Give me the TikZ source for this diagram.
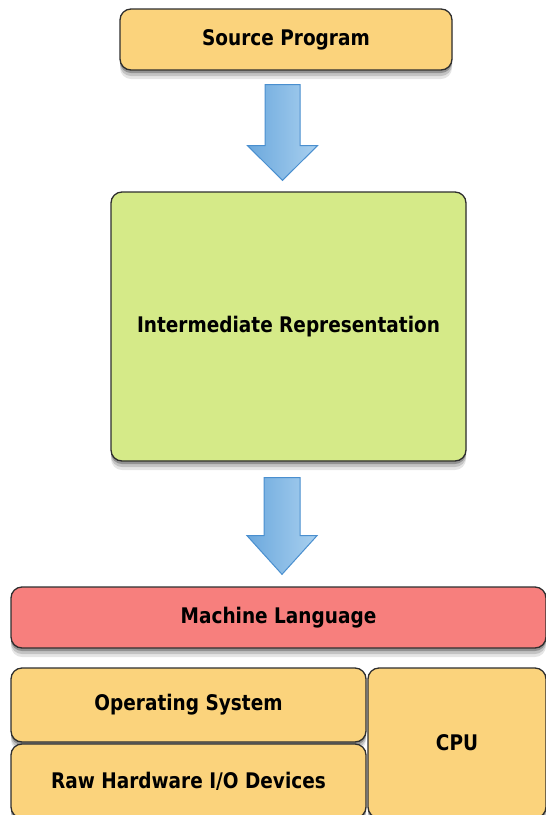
\documentclass[tikz,border=0pt]{standalone}
\usepackage{fontspec}
\setmainfont{DejaVu Sans}[FakeStretch=0.86]
\usetikzlibrary{shadows,calc}
\definecolor{boxorange}{HTML}{FBD37C}
\definecolor{boxgreen}{HTML}{D5EA88}
\definecolor{boxred}{HTML}{F77F7D}
\definecolor{boxline}{HTML}{2E2E2E}
\definecolor{arrowdark}{HTML}{6BA8DD}
\definecolor{arrowlight}{HTML}{A9D0EF}
\definecolor{arrowline}{HTML}{4A8FCF}
\begin{document}
\begin{tikzpicture}[x=1pt,y=-1pt,
  box/.style={draw=boxline, line width=1.3pt, rounded corners=11pt, inner sep=0pt,
    font=\fontsize{21.5}{24}\selectfont\bfseries,
    preaction={fill=black, opacity=0.10, transform canvas={yshift=-9pt}},
    preaction={fill=black, opacity=0.15, transform canvas={yshift=-6pt}},
    preaction={fill=black, opacity=0.25, transform canvas={yshift=-3pt}}},
  blockarrow/.style={draw=arrowline, line width=1pt, line join=miter, left color=arrowdark, right color=arrowlight}]
\useasboundingbox (0,0) rectangle (546,815);
\clip (0,0) rectangle (546,815);
\node[box, fill=boxorange, minimum width=332pt, minimum height=61pt] (src) at (286,39.5) {Source Program};
\node[box, fill=boxgreen, minimum width=355pt, minimum height=269pt] (ir) at (288.5,326.5) {Intermediate Representation};
\node[box, fill=boxred, minimum width=535pt, minimum height=61pt] (ml) at (278.5,617.5) {Machine Language};
\node[box, fill=boxorange, minimum width=355pt, minimum height=74pt] (os) at (188.5,705) {Operating System};
\node[box, fill=boxorange, minimum width=355pt, minimum height=74pt] (raw) at (188.5,781) {Raw Hardware I/O Devices};
\node[box, fill=boxorange, minimum width=178pt, minimum height=150pt] (cpu) at (457,743) {CPU};
% block arrows between nodes
\path[blockarrow]
  ($(src.south)+(-21,14)$) -- ($(src.south)+(14,14)$) -- ($(src.south)+(14,75)$)
  -- ($(src.south)+(31.5,75)$) -- ($(ir.north)+(-6,-11)$) -- ($(src.south)+(-38.5,75)$)
  -- ($(src.south)+(-21,75)$) -- cycle;
\path[blockarrow]
  ($(ir.south)+(-24.5,16)$) -- ($(ir.south)+(11.5,16)$) -- ($(ir.south)+(11.5,74)$)
  -- ($(ir.south)+(28.5,74)$) -- ($(ml.north)+(3.5,-12)$) -- ($(ir.south)+(-41.5,74)$)
  -- ($(ir.south)+(-24.5,74)$) -- cycle;
\end{tikzpicture}
\end{document}
